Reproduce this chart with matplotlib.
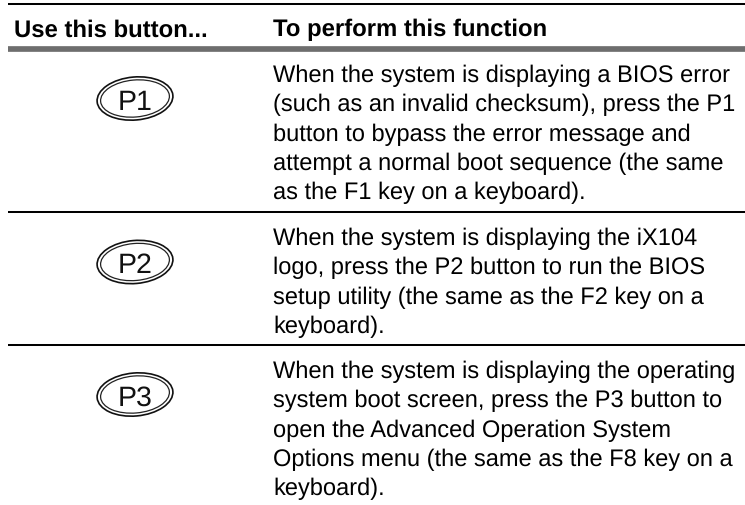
import matplotlib
matplotlib.use("Agg")
import matplotlib.pyplot as plt
from matplotlib.patches import Ellipse

W, H = 745, 506
headers = ["Use this button...", "To perform this function"]
buttons = ["P1", "P2", "P3"]
rows = [
    ["When the system is displaying a BIOS error", "(such as an invalid checksum), press the P1",
     "button to bypass the error message and", "attempt a normal boot sequence (the same",
     "as the F1 key on a keyboard)."],
    ["When the system is displaying the iX104", "logo, press the P2 button to run the BIOS",
     "setup utility (the same as the F2 key on a", "keyboard)."],
    ["When the system is displaying the operating", "system boot screen, press the P3 button to",
     "open the Advanced Operation System", "Options menu (the same as the F8 key on a",
     "keyboard)."],
]

# layout (pixels)
button_cy = [99.5, 263, 395.5]
button_base = [110, 273, 406]
row_base = [82, 245, 378]
line_step = 29.3
rules = [213, 346]

plt.rcParams['font.family'] = ['Liberation Sans', 'DejaVu Sans']
plt.rcParams['text.hinting'] = 'no_hinting'
plt.rcParams['text.hinting_factor'] = 8
fig = plt.figure(figsize=(W/100, H/100), dpi=100)
ax = fig.add_axes([0, 0, 1, 1])
ax.set_xlim(0, W); ax.set_ylim(H, 0); ax.axis('off')

ax.plot([8, 745], [5, 5], color='black', lw=1.45, solid_capstyle='butt')
ax.plot([8, 745], [50, 50], color='#6e6e6e', lw=4.1, solid_capstyle='butt')
for y in rules:
    ax.plot([8, 745], [y, y], color='black', lw=1.45, solid_capstyle='butt')

ax.text(14, 36.5, headers[0], fontsize=17.2, fontweight='bold', va='baseline', ha='left', color='black')
ax.text(273, 36.5, headers[1], fontsize=17.2, fontweight='bold', va='baseline', ha='left', color='black')

for b, cy, base in zip(buttons, button_cy, button_base):
    ax.add_patch(Ellipse((135, cy), 76, 43, angle=-5, fill=False, ec='#111111', lw=1.2))
    ax.add_patch(Ellipse((135, cy), 69, 37, angle=-5, fill=False, ec='#222222', lw=0.9))
    ax.text(135, base, b, fontsize=20.5, va='baseline', ha='center', color='#111111')

for lines, y0 in zip(rows, row_base):
    for i, s in enumerate(lines):
        ax.text(273, y0 + i*line_step, s, fontsize=17.0, va='baseline', ha='left', color='black')

fig.savefig('out.png', dpi=100)
